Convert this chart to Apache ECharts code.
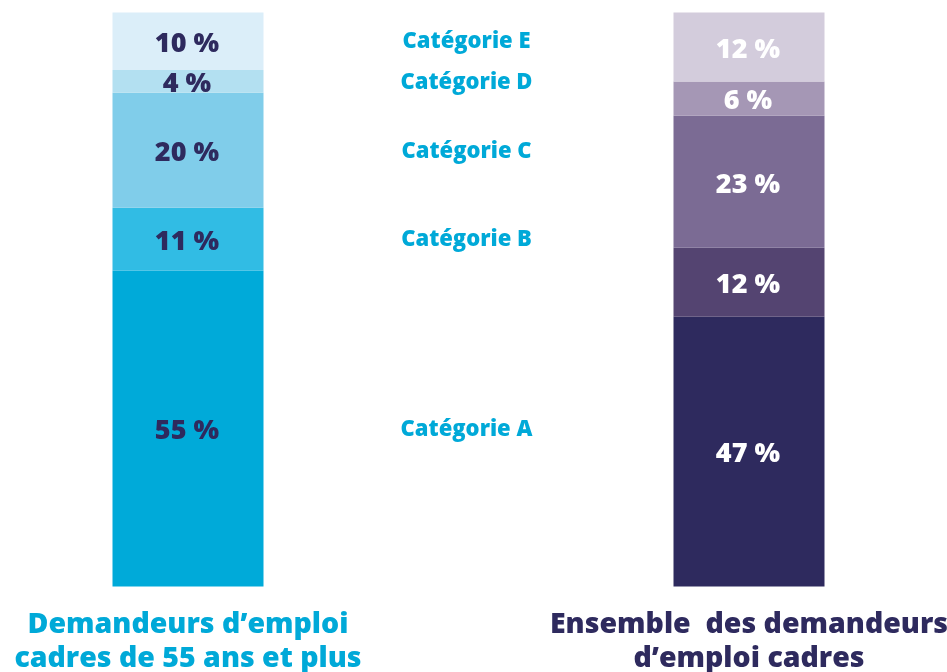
<!DOCTYPE html>
<html><head><meta charset="utf-8">
<script src="https://cdn.jsdelivr.net/npm/echarts@6/dist/echarts.min.js"></script>
<style>html,body{margin:0;padding:0;background:#fff}#c{width:947px;height:672px}</style>
</head><body><div id="c"></div>
<script>
const groups = ['Demandeurs d\u2019emploi\ncadres de 55 ans et plus', '', 'Ensemble  des demandeurs\nd\u2019emploi cadres'];
const categories = ['Catégorie A', 'Catégorie B', 'Catégorie C', 'Catégorie D', 'Catégorie E'];
const seniors = [55, 11, 20, 4, 10];
const ensemble = [47, 12, 23, 6, 12];
const seniorColors = ['#00aad9', '#31bce4', '#80cdea', '#b3e0f1', '#dbeef9'];
const ensembleColors = ['#2e2a5e', '#544471', '#7b6b94', '#a597b5', '#d3ccdc'];
const FONT = 'Open Sans';

const series = categories.map((cat, i) => ({
  type: 'bar',
  stack: 'all',
  barWidth: 151,
  name: cat,
  data: [
    { value: seniors[i], itemStyle: { color: seniorColors[i], borderColor: seniorColors[i], borderWidth: 1.5 },
      label: { show: true, formatter: '{c} %', color: '#2e2a5e', fontSize: 27, fontWeight: 800, fontFamily: FONT, offset: [-1, 3] } },
    { value: seniors[i], itemStyle: { color: 'rgba(0,0,0,0)' },
      label: { show: true, formatter: cat, color: '#00a9d8', fontSize: 22, fontWeight: 800, fontFamily: FONT, offset: [-2, 1] } },
    { value: ensemble[i], itemStyle: { color: ensembleColors[i], borderColor: ensembleColors[i], borderWidth: 1.5 },
      label: { show: true, formatter: '{c} %', color: '#ffffff', fontSize: 27, fontWeight: 800, fontFamily: FONT, offset: [-1, 3] } }
  ],
  label: { show: true, position: 'inside' },
  emphasis: { disabled: true }
}));

const chart = echarts.init(document.getElementById('c'));
chart.setOption({
  animation: false,
  grid: { left: 47.75, right: 57.75, top: 12.5, bottom: 85.5, containLabel: false, outerBoundsMode: 'none' },
  xAxis: {
    type: 'category',
    data: groups,
    axisLine: { show: false }, axisTick: { show: false },
    axisLabel: {
      interval: 0, margin: 21,
      formatter: (v, idx) => idx === 0 ? '{a|' + v.split('\n').join('}\n{a|') + '}' : (idx === 2 ? '{b|' + v.split('\n').join('}\n{b|') + '}' : ''),
      rich: {
        a: { color: '#00a9d8', fontSize: 28.5, fontWeight: 800, fontFamily: FONT, lineHeight: 34 },
        b: { color: '#2e2a5e', fontSize: 28.5, fontWeight: 800, fontFamily: FONT, lineHeight: 34 }
      }
    }
  },
  yAxis: { type: 'value', min: 0, max: 100, show: false },
  series
});
</script></body></html>
